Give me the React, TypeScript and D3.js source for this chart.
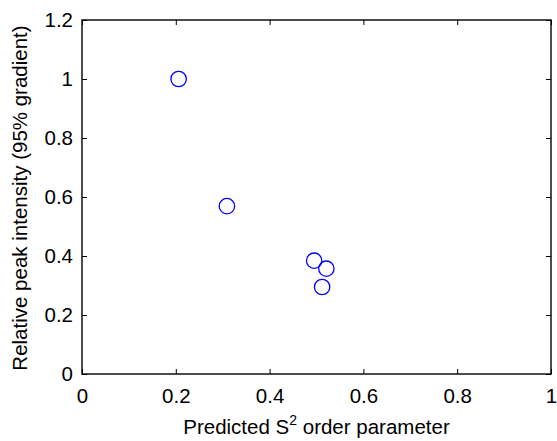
import React, { useEffect, useRef } from 'react';
import { select, scaleLinear, axisBottom, axisLeft, axisTop, axisRight } from 'd3';

// predicted S2 order parameter vs relative peak intensity
const orderParam = [0.206, 0.309, 0.495, 0.521, 0.512];
const peakIntensity = [1.0, 0.569, 0.384, 0.357, 0.295];
const xTicks = [0, 0.2, 0.4, 0.6, 0.8, 1];
const yTicks = [0, 0.2, 0.4, 0.6, 0.8, 1, 1.2];

const W = 557;
const H = 441;
const margin = { top: 20, right: 6, bottom: 67, left: 82 };

export default function App() {
  const ref = useRef<SVGSVGElement>(null);

  useEffect(() => {
    const svg = select(ref.current);
    svg.selectAll('*').remove();

    const x = scaleLinear().domain([0, 1]).range([margin.left, W - margin.right]);
    const y = scaleLinear().domain([0, 1.2]).range([H - margin.bottom, margin.top]);
    const font = 'Liberation Sans, Arial, Helvetica, sans-serif';
    const fs = 20.5;

    const style = (g: any) => {
      g.select('.domain').remove();
      g.selectAll('line').attr('stroke', '#000').attr('stroke-width', 1);
      g.selectAll('text').attr('font-family', font).attr('font-size', fs).attr('fill', '#000');
    };

    // box
    svg.append('rect')
      .attr('x', x(0)).attr('y', y(1.2))
      .attr('width', x(1) - x(0)).attr('height', y(0) - y(1.2))
      .attr('fill', 'none').attr('stroke', '#000').attr('stroke-width', 1.4);

    svg.append('g')
      .attr('transform', `translate(0,${y(0)})`)
      .call(axisBottom(x).tickValues(xTicks).tickSize(-5).tickPadding(14).tickFormat((d: any) => String(d)))
      .call(style);
    svg.append('g')
      .attr('transform', `translate(0,${y(1.2)})`)
      .call(axisTop(x).tickValues(xTicks).tickSize(-5).tickFormat(() => ''))
      .call(style);
    svg.append('g')
      .attr('transform', `translate(${x(0)},0)`)
      .call(axisLeft(y).tickValues(yTicks).tickSize(-5).tickPadding(9).tickFormat((d: any) => String(d)))
      .call(style);
    svg.append('g')
      .attr('transform', `translate(${x(1)},0)`)
      .call(axisRight(y).tickValues(yTicks).tickSize(-5).tickFormat(() => ''))
      .call(style);

    svg.append('g')
      .selectAll('circle')
      .data(orderParam.map((d, i) => ({ x: d, y: peakIntensity[i] })))
      .join('circle')
      .attr('cx', d => x(d.x))
      .attr('cy', d => y(d.y))
      .attr('r', 7.7)
      .attr('fill', 'none')
      .attr('stroke', '#0000ff')
      .attr('stroke-width', 1.3);

    // x label
    const xl = svg.append('text')
      .attr('x', (x(0) + x(1)) / 2)
      .attr('y', 434)
      .attr('text-anchor', 'middle')
      .attr('font-family', font)
      .attr('font-size', fs);
    xl.append('tspan').text('Predicted S');
    xl.append('tspan').attr('font-size', 14).attr('dy', -9).text('2');
    xl.append('tspan').attr('dy', 9).text(' order parameter');

    svg.append('text')
      .attr('transform', `translate(27,${(y(0) + y(1.2)) / 2 + 1}) rotate(-90)`)
      .attr('text-anchor', 'middle')
      .attr('font-family', font)
      .attr('font-size', fs)
      .text('Relative peak intensity (95% gradient)');
  }, []);

  return (
    <svg ref={ref} width={W} height={H}
      style={{ position: 'absolute', left: 0, top: 0, background: '#fff' }} />
  );
}
